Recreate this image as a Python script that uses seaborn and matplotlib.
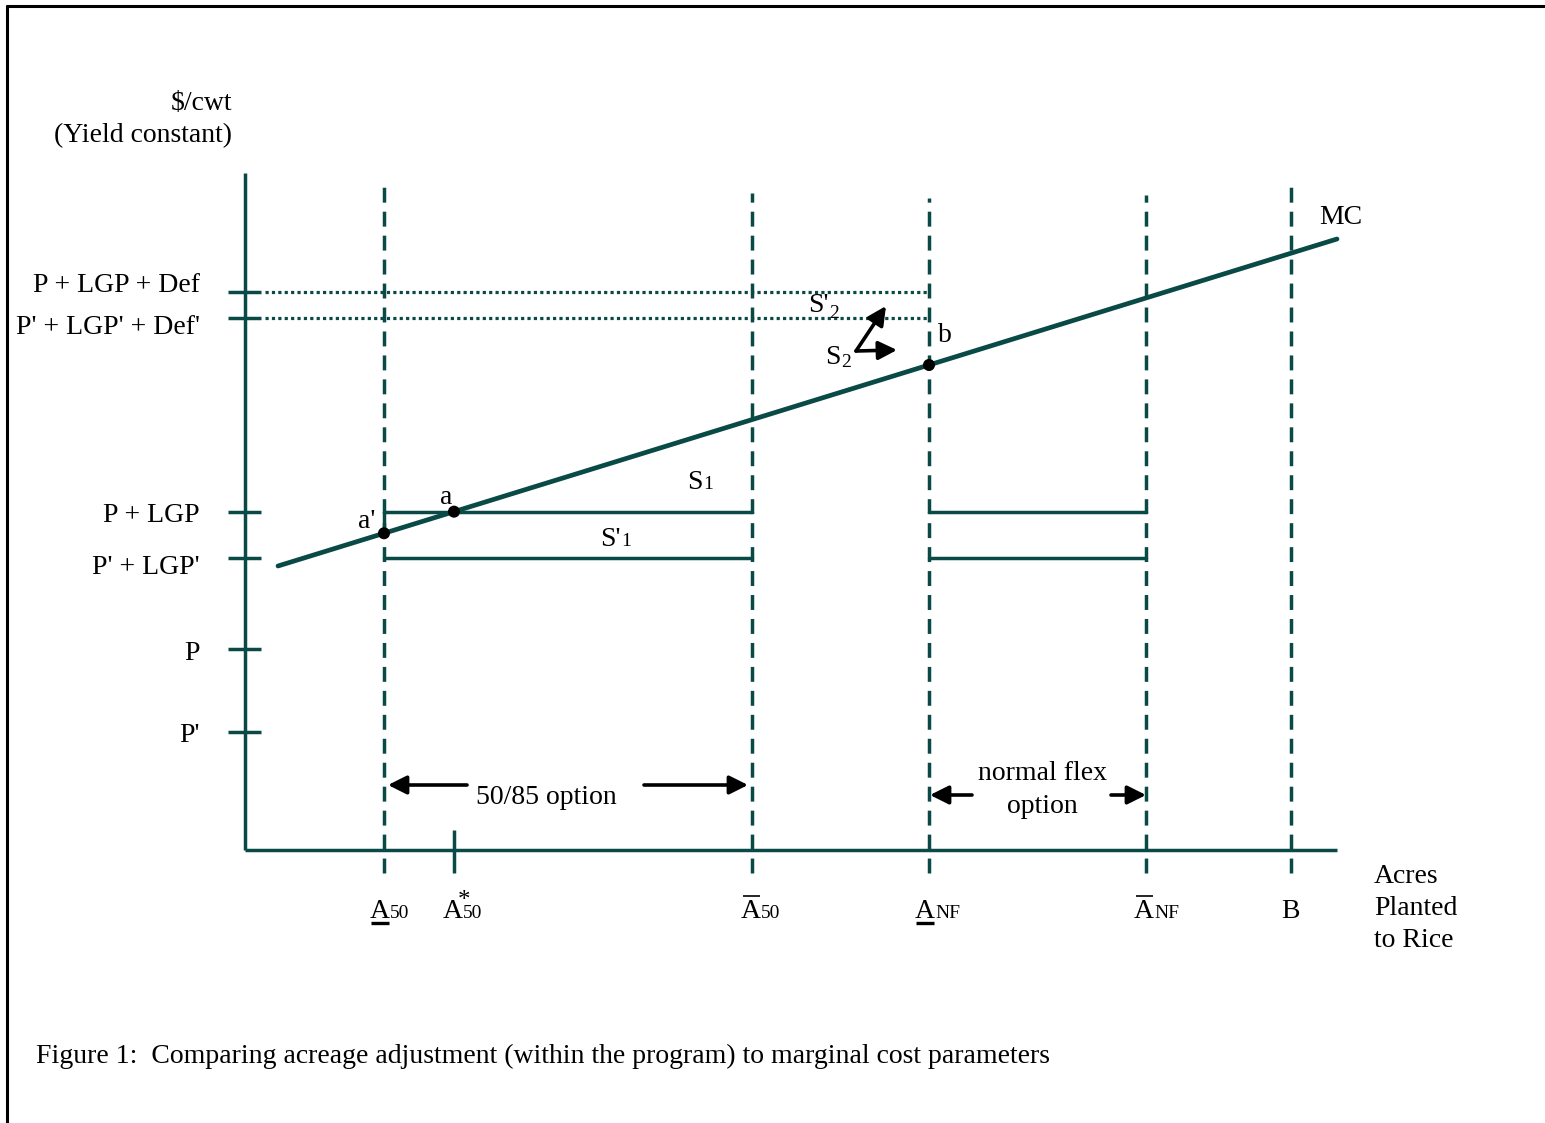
import matplotlib
matplotlib.use("Agg")
import matplotlib.pyplot as plt
import numpy as np
import pandas as pd
import seaborn as sns

# diagram units: origin at the axes corner, 1 unit ~ 1 px of the figure
x_names = ["A50", "A50*", "Abar50", "ANF", "AbarNF", "B"]
x_pos = [139, 209, 507, 684, 901, 1046]
x_line_top = [667, None, 657, 652, 655, 670]

y_names = ["P + LGP + Def", "P' + LGP' + Def'", "P + LGP", "P' + LGP'", "P", "P'"]
y_pos = [558, 532, 338, 292, 201, 118]
y_label_shift = [6, -9, -3, -9, -4, -3]

mc_x = [33, 1092]
mc_y = [284, 611]

axis_top = 677
axis_right = 1092

teal = "#0a4a46"
sns.set_theme(style="white")
plt.rcParams["font.family"] = ["Liberation Serif", "DejaVu Serif"]
plt.rcParams["text.color"] = "black"

fig = plt.figure(figsize=(15.45, 11.23), dpi=100)
ax = fig.add_axes([0, 0, 1, 1])
ax.set_xlim(-245, 1300)
ax.set_ylim(-273, 850)
ax.axis("off")


def at(px, py):
    return px - 245, 850 - py


FS = 20
lw = 2.5

# page frame
fig.add_artist(plt.Line2D([7 / 1545, 7 / 1545], [0, 1 - 6 / 1123], color="black", lw=2.2))
fig.add_artist(plt.Line2D([7 / 1545, 1], [1 - 6 / 1123, 1 - 6 / 1123], color="black", lw=2.2))

# axes
ax.plot([0, 0], [0, axis_top], color=teal, lw=lw, solid_capstyle="butt")
ax.plot([0, axis_right], [0, 0], color=teal, lw=lw, solid_capstyle="butt")

# y ticks and labels
for name, yv, sh in zip(y_names, y_pos, y_label_shift):
    ax.plot([-17, 16], [yv, yv], color=teal, lw=lw, solid_capstyle="butt")
    ax.text(-45, yv + sh, name, ha="right", va="center", fontsize=FS)

ax.text(*at(232, 103), "$/cwt", ha="right", va="center", fontsize=FS)
ax.text(*at(232, 136), "(Yield constant)", ha="right", va="center", fontsize=FS)

# vertical dashed lines
dash = (0, (4.3, 2.6))
for xv, top in zip(x_pos, x_line_top):
    if top is None:
        ax.plot([xv, xv], [-23, 20], color=teal, lw=lw, solid_capstyle="butt")
    else:
        ax.plot([xv, xv], [-23, top], color=teal, lw=lw, linestyle=dash)

# dotted price lines
for yv in y_pos[:2]:
    ax.plot([20, x_pos[3]], [yv, yv], color=teal, lw=2.3, linestyle=(0, (1, 1)))

# MC curve
mc = pd.DataFrame({"x": mc_x, "y": mc_y})
sns.lineplot(data=mc, x="x", y="y", ax=ax, color=teal, lw=3.4)

# supply steps
a_prime_y = np.interp(x_pos[0], mc_x, mc_y)
ax.plot([x_pos[0], x_pos[0], x_pos[2]], [a_prime_y, y_pos[2], y_pos[2]], color=teal, lw=lw)
ax.plot([x_pos[0], x_pos[2]], [y_pos[3], y_pos[3]], color=teal, lw=lw)
ax.plot([x_pos[3], x_pos[4]], [y_pos[2], y_pos[2]], color=teal, lw=lw)
ax.plot([x_pos[3], x_pos[4]], [y_pos[3], y_pos[3]], color=teal, lw=lw)

# points a', a, b
pts = pd.DataFrame({"x": [x_pos[0], x_pos[1], x_pos[3]],
                    "y": [np.interp(v, mc_x, mc_y) for v in (x_pos[0], x_pos[1], x_pos[3])]})
sns.scatterplot(data=pts, x="x", y="y", ax=ax, color="black", s=75, zorder=5, edgecolor="none")

ax.text(*at(367, 521), "a'", ha="center", va="center", fontsize=FS)
ax.text(*at(446, 498), "a", ha="center", va="center", fontsize=FS)
ax.text(*at(945, 336), "b", ha="center", va="center", fontsize=FS)
ax.text(*at(1341, 217), "MC", ha="center", va="center", fontsize=FS)


def sub_label(px, py, big, small, drop=0, fs_small=14):
    x, y = at(px, py)
    ax.text(x, y, big, ha="right", va="baseline", fontsize=FS)
    ax.text(x, y - drop, small, ha="left", va="baseline", fontsize=fs_small)


sub_label(703, 489, "S", "1")
sub_label(621, 546, "S'", "1")
sub_label(829, 312, "S'", "2", drop=6)
sub_label(841, 364, "S", "2", drop=3)

# S2 shift arrows
arr = dict(arrowstyle="-|>", color="black", lw=2.6, mutation_scale=28, shrinkA=0, shrinkB=0)
ax.annotate("", xy=at(886, 306), xytext=at(856, 351), arrowprops=arr)
ax.annotate("", xy=at(897, 350), xytext=at(856, 351), arrowprops=arr)

# option arrows
ax.annotate("", xy=at(388, 785), xytext=at(467, 785), arrowprops=arr)
ax.annotate("", xy=at(748, 785), xytext=at(644, 785), arrowprops=arr)
ax.text(*at(546, 798), "50/85 option", ha="center", va="center", fontsize=FS)
ax.annotate("", xy=at(930, 795), xytext=at(972, 795), arrowprops=arr)
ax.annotate("", xy=at(1146, 795), xytext=at(1111, 795), arrowprops=arr)
ax.text(*at(1042, 790), "normal flex\noption", ha="center", va="center", fontsize=FS,
        linespacing=1.4)


# x labels: big A with small suffix, optional under/over bar
def x_label(px, suffix, bar=None, star=False):
    base = 918
    x, y = at(px, base)
    ax.text(x, y, "A", ha="right", va="baseline", fontsize=FS)
    ax.text(x, y, suffix, ha="left", va="baseline", fontsize=14)
    if bar == "under":
        ax.plot([x - 19, x - 1], [y - 5, y - 5], color="black", lw=2.4, solid_capstyle="butt")
    elif bar == "over":
        ax.plot([x - 18, x - 1], [y + 22, y + 22], color="black", lw=1.2, solid_capstyle="butt")
    if star:
        ax.text(x + 1, y + 17, "*", ha="center", va="center", fontsize=18)


x_label(390, "50", bar="under")
x_label(463, "50", star=True)
x_label(761, "50", bar="over")
x_label(935, "NF", bar="under")
x_label(1154, "NF", bar="over")
ax.text(*at(1290, 918), "B", ha="center", va="baseline", fontsize=FS)
ax.text(*at(1374, 864), "Acres\nPlanted\nto Rice", ha="left", va="top", fontsize=FS,
        linespacing=1.37)

ax.text(*at(36, 1056), "Figure 1:  Comparing acreage adjustment (within the program) to marginal cost parameters",
        ha="left", va="center", fontsize=FS)

fig.savefig("out.png", dpi=100)
